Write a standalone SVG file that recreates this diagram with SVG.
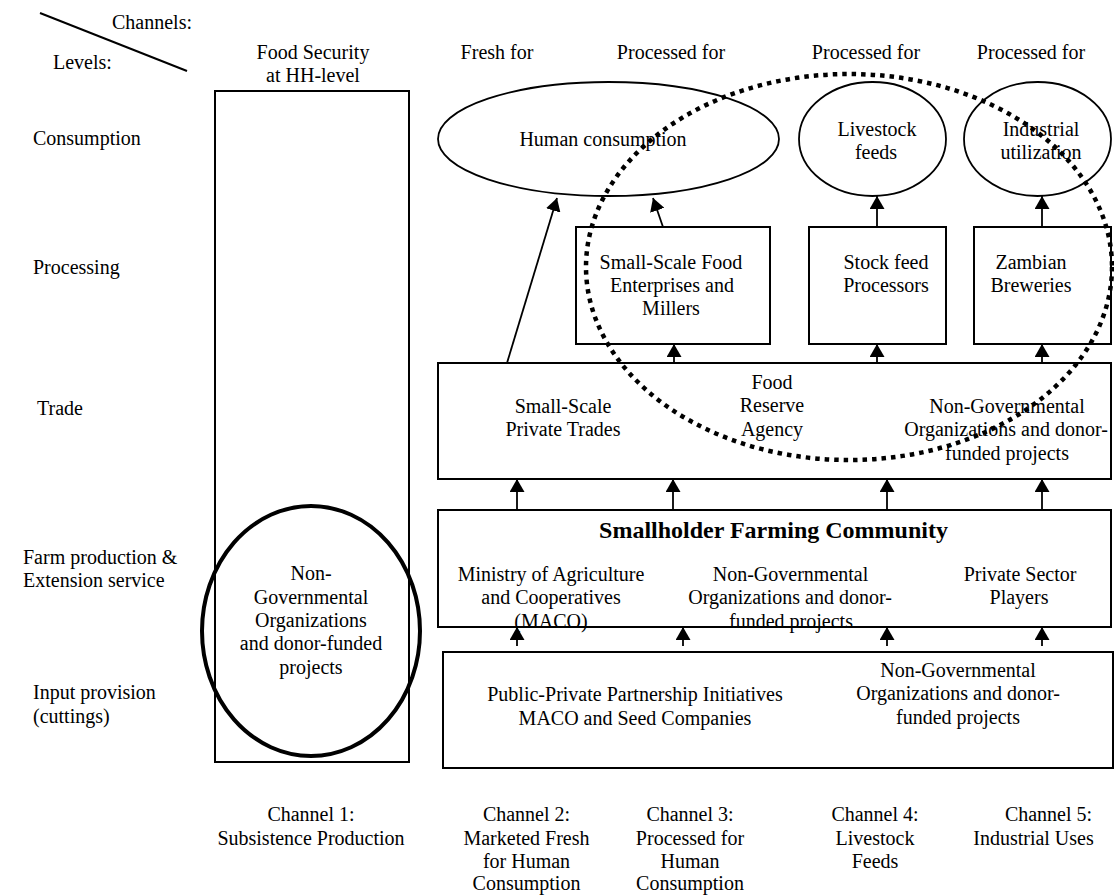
<svg xmlns="http://www.w3.org/2000/svg" width="1114" height="895" viewBox="0 0 1114 895" font-family="'Liberation Serif', 'Times New Roman', Times, serif">
<defs>
<style>
text{font-family:'Liberation Serif','Times New Roman',Times,serif;font-size:20px;fill:#000}
.c{text-anchor:middle}
.b{font-weight:bold;font-size:24px}
.box{fill:none;stroke:#000;stroke-width:2}
.ell{fill:none;stroke:#000;stroke-width:1.8}
.arr{stroke:#000;stroke-width:1.8;fill:none;marker-end:url(#ah)}
</style>
<marker id="ah" viewBox="0 0 13 15" refX="13" refY="7.5" markerWidth="13" markerHeight="15" markerUnits="userSpaceOnUse" orient="auto">
<path d="M0,0 L13,7.5 L0,15 z" fill="#000"/>
</marker>
</defs>
<rect width="1114" height="895" fill="#fff"/>

<g id="header">
<line x1="40" y1="13" x2="187" y2="71" stroke="#000" stroke-width="2"/>
<text x="112" y="29">Channels:</text>
<text x="53" y="69">Levels:</text>
<text class="c" x="313" y="59">Food Security</text>
<text class="c" x="313" y="82">at HH-level</text>
<text class="c" x="497" y="59">Fresh for</text>
<text class="c" x="671" y="59">Processed for</text>
<text class="c" x="866" y="59">Processed for</text>
<text class="c" x="1031" y="59">Processed for</text>
</g>

<g id="levels">
<text x="33" y="145">Consumption</text>
<text x="33" y="274">Processing</text>
<text x="37" y="415">Trade</text>
<text x="23" y="564">Farm production &amp;</text>
<text x="23" y="587">Extension service</text>
<text x="33" y="699">Input provision</text>
<text x="33" y="723">(cuttings)</text>
</g>

<g id="channel1-column">
<rect class="box" x="215" y="91" width="194" height="671"/>
</g>

<g id="ngo-subsistence">
<ellipse cx="311" cy="631" rx="109" ry="125" fill="none" stroke="#000" stroke-width="4"/>
<text class="c" x="311" y="580">Non-</text>
<text class="c" x="311" y="604">Governmental</text>
<text class="c" x="311" y="627">Organizations</text>
<text class="c" x="311" y="650">and donor-funded</text>
<text class="c" x="311" y="674">projects</text>
</g>

<g id="human-consumption">
<ellipse class="ell" cx="608.5" cy="139" rx="170.5" ry="57"/>
<text class="c" x="603" y="146">Human consumption</text>
</g>

<g id="livestock-feeds">
<ellipse class="ell" cx="872.5" cy="139" rx="73.5" ry="57"/>
<text class="c" x="877" y="136">Livestock</text>
<text class="c" x="876" y="159">feeds</text>
</g>

<g id="industrial-utilization">
<ellipse class="ell" cx="1037.5" cy="139" rx="73.5" ry="57"/>
<text class="c" x="1041" y="136">Industrial</text>
<text class="c" x="1041" y="159">utilization</text>
</g>

<g id="small-scale-food">
<rect class="box" x="576" y="227" width="194" height="117"/>
<text class="c" x="671" y="269">Small-Scale Food</text>
<text class="c" x="672" y="292">Enterprises and</text>
<text class="c" x="671" y="315">Millers</text>
</g>

<g id="stock-feed">
<rect class="box" x="809" y="227" width="137" height="117"/>
<text class="c" x="886" y="269">Stock feed</text>
<text class="c" x="886" y="292">Processors</text>
</g>

<g id="zambian-breweries">
<rect class="box" x="974" y="227" width="137" height="117"/>
<text class="c" x="1031" y="269">Zambian</text>
<text class="c" x="1031" y="292">Breweries</text>
</g>

<g id="trade">
<rect class="box" x="438" y="363" width="673" height="116"/>
<text class="c" x="563" y="413">Small-Scale</text>
<text class="c" x="563" y="436">Private Trades</text>
<text class="c" x="772" y="389">Food</text>
<text class="c" x="772" y="412">Reserve</text>
<text class="c" x="772" y="436">Agency</text>
<text class="c" x="1007" y="413">Non-Governmental</text>
<text class="c" x="1006" y="436">Organizations and donor-</text>
<text class="c" x="1007" y="460">funded projects</text>
</g>

<g id="farming">
<rect class="box" x="438" y="510" width="673" height="117"/>
<text class="c b" x="773.5" y="538">Smallholder Farming Community</text>
<text class="c" x="551" y="581">Ministry of Agriculture</text>
<text class="c" x="551" y="604">and Cooperatives</text>
<text class="c" x="551" y="628">(MACO)</text>
<text class="c" x="790.5" y="581">Non-Governmental</text>
<text class="c" x="790" y="604">Organizations and donor-</text>
<text class="c" x="791" y="628">funded projects</text>
<text class="c" x="1020" y="581">Private Sector</text>
<text class="c" x="1019" y="604">Players</text>
</g>

<g id="input">
<rect class="box" x="443" y="652" width="670" height="116"/>
<text class="c" x="635" y="701">Public-Private Partnership Initiatives</text>
<text class="c" x="635" y="725">MACO and Seed Companies</text>
<text class="c" x="958" y="677">Non-Governmental</text>
<text class="c" x="958" y="700">Organizations and donor-</text>
<text class="c" x="958" y="724">funded projects</text>
</g>

<g id="connectors">
<line class="arr" x1="507" y1="363" x2="557" y2="198"/>
<line class="arr" x1="663" y1="227" x2="653" y2="198"/>
<line class="arr" x1="877" y1="227" x2="877" y2="196"/>
<line class="arr" x1="1042" y1="227" x2="1042" y2="196"/>
<line class="arr" x1="674" y1="363" x2="674" y2="344"/>
<line class="arr" x1="877" y1="363" x2="877" y2="344"/>
<line class="arr" x1="1042" y1="363" x2="1042" y2="344"/>
<line class="arr" x1="517" y1="510" x2="517" y2="479"/>
<line class="arr" x1="673" y1="510" x2="673" y2="479"/>
<line class="arr" x1="887" y1="510" x2="887" y2="479"/>
<line class="arr" x1="1042" y1="510" x2="1042" y2="479"/>
<line class="arr" x1="517" y1="646" x2="517" y2="627"/>
<line class="arr" x1="683" y1="646" x2="683" y2="627"/>
<line class="arr" x1="887" y1="646" x2="887" y2="627"/>
<line class="arr" x1="1042" y1="646" x2="1042" y2="627"/>
</g>

<g id="processing-highlight">
<ellipse cx="849" cy="267" rx="263" ry="193" fill="none" stroke="#000" stroke-width="4.5" stroke-dasharray="4.5 5"/>
</g>

<g id="channels">
<text class="c" x="311" y="821">Channel 1:</text>
<text class="c" x="311" y="845">Subsistence Production</text>
<text class="c" x="526.5" y="821">Channel 2:</text>
<text class="c" x="526.5" y="845">Marketed Fresh</text>
<text class="c" x="526.5" y="868">for Human</text>
<text class="c" x="526.5" y="890">Consumption</text>
<text class="c" x="690" y="821">Channel 3:</text>
<text class="c" x="690" y="845">Processed for</text>
<text class="c" x="690" y="868">Human</text>
<text class="c" x="690" y="890">Consumption</text>
<text class="c" x="875" y="821">Channel 4:</text>
<text class="c" x="875" y="845">Livestock</text>
<text class="c" x="875" y="868">Feeds</text>
<text class="c" x="1048.5" y="821">Channel 5:</text>
<text class="c" x="1033.5" y="845">Industrial Uses</text>
</g>
</svg>
